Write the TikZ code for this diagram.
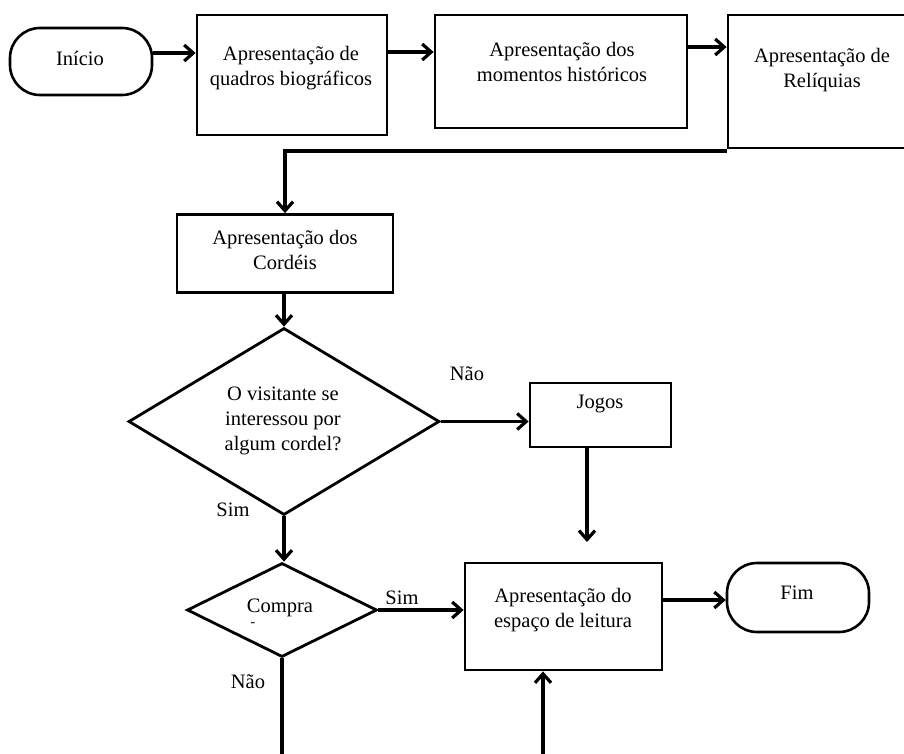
\documentclass[tikz,border=0pt]{standalone}
\usepackage{fontspec}
\setmainfont{Liberation Serif}
\usetikzlibrary{shapes.geometric,arrows.meta}

\begin{document}
\begin{tikzpicture}[x=1pt,y=-1pt,->,>={Straight Barb[length=9pt,width=16pt]},line width=3.2pt,
    box node/.style={rectangle,draw,line width=2.8pt,inner sep=0pt},
    term node/.style={rectangle,draw,rounded corners=30pt,line width=2.6pt,inner sep=0pt},
    test node/.style={diamond,draw,line width=2.8pt,inner sep=0pt},
    txt/.style={align=center,inner sep=0pt,font=\fontsize{20.5}{25}\selectfont}]

            \clip (0,0) rectangle (904,754);

            \node[term node, minimum width=142, minimum height=67] (inicio) at (81,61.5) {};
            \node[box node, minimum width=190, minimum height=120] (quadros) at (292,75) {};
            \node[box node, minimum width=252, minimum height=113] (momentos) at (561,71.5) {};
            \node[box node, minimum width=190, minimum height=133] (reliquias) at (823,81.5) {};
            \node[box node, minimum width=216, minimum height=78] (cordeis) at (285,253.5) {};
            \node[test node, minimum width=311, minimum height=187] (interesse) at (284,421.5) {};
            \node[box node, minimum width=141, minimum height=64] (jogos) at (600.5,415) {};
            \node[test node, minimum width=190, minimum height=94] (compra) at (282,610) {};
            \node[box node, minimum width=197, minimum height=107] (leitura) at (563.5,616.5) {};
            \node[term node, minimum width=142, minimum height=69] (fim) at (798,597.5) {};

            \node[txt] (t1) at (80,58) {Início};
            \node[txt] (t2) at (291,68) {Apresentação de\\quadros biográficos};
            \node[txt] (t3) at (562,62) {Apresentação dos\\momentos históricos};
            \node[txt] (t4) at (822,70) {Apresentação de\\Relíquias};
            \node[txt] (t5) at (285,250) {Apresentação dos\\Cordéis};
            \node[txt] (t6) at (283,421) {O visitante se\\interessou por\\algum cordel?};
            \node[txt] (t7) at (600,404) {Jogos};
            \node[txt] (t8) at (280,608) {Compra};
            \node[txt] (t9) at (253,625) {\fontsize{14}{14}\selectfont -};
            \node[txt] (t10) at (563,610) {Apresentação do\\espaço de leitura};
            \node[txt] (t11) at (797,593) {Fim};

            \node[txt] (nao1) at (467,374) {Não};
            \node[txt] (sim1) at (233,510) {Sim};
            \node[txt] (sim2) at (402,598) {Sim};
            \node[txt] (nao2) at (248,682) {Não};

            \coordinate (jogosfim) at (587,542);
            \coordinate (compraout) at (284,760);
            \coordinate (leiturain) at (543,760);

            \draw (inicio.east |- 0,53) -- (quadros.west |- 0,53);
            \draw (quadros.east |- 0,52) -- (momentos.west |- 0,52);
            \draw (momentos.east |- 0,47) -- (reliquias.west |- 0,47);
            \draw (reliquias.south west |- 772,151) -| (cordeis.north);
            \draw (cordeis.south -| interesse.north) -- (interesse.north);
            \draw (interesse.east) -- (jogos.west |- interesse.east);
            \draw (jogos.south -| jogosfim) -- (jogosfim);
            \draw (interesse.south) -- (interesse.south |- compra.north);
            \draw (compra.east) -- (leitura.west |- compra.east);
            \draw (leitura.east |- 0,600) -- (fim.west |- 0,600);
            \draw[-] (compra.south) -- (compra.south |- compraout);
            \draw (leiturain) -- (leitura.south -| leiturain);
        \end{tikzpicture}
\end{document}
